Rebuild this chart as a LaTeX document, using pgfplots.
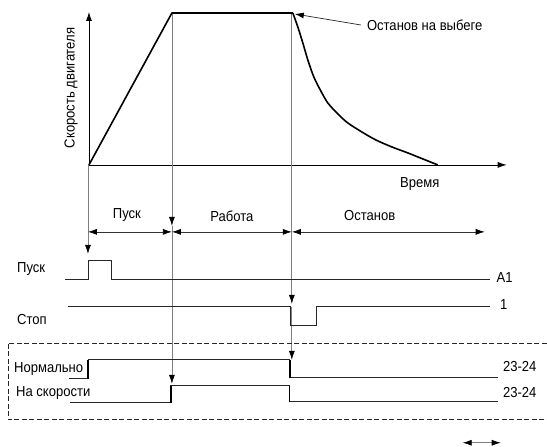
\documentclass[border=0pt]{standalone}
\usepackage{pgfplots}
\pgfplotsset{compat=1.18}
\usepackage{fontspec}
\setmainfont{Liberation Sans}[FakeStretch=0.9]
\usetikzlibrary{arrows.meta}
\tikzset{lbl/.style={font=\fontsize{14.5}{16}\selectfont, inner sep=0pt}}
\begin{document}
\begin{tikzpicture}
\begin{axis}[
  width=547pt, height=447pt, scale only axis,
  xmin=0, xmax=547, ymin=0, ymax=447, y dir=reverse,
  hide axis, clip=false,
]
% bounding frame (invisible)
\addplot[draw=none] coordinates {(0,0) (547,447)};
% axes
\addplot[black, line width=0.8pt, -{Latex[length=9pt,width=6pt]}] coordinates {(89,165) (89,12)};
\addplot[black, line width=0.8pt, -{Latex[length=9pt,width=6pt]}] coordinates {(89,165) (507,165)};
% gray verticals with arrows
\addplot[gray, line width=0.7pt, -{Latex[length=9pt,width=6pt,color=black]}] coordinates {(88,165) (88,254)};
\addplot[gray, line width=0.7pt, -{Latex[length=9pt,width=6pt,color=black]}] coordinates {(172,13) (172,226)};
\addplot[gray, line width=0.7pt, -{Latex[length=9pt,width=6pt,color=black]}] coordinates {(172,226) (172,384)};
\addplot[gray, line width=0.7pt, -{Latex[length=9pt,width=6pt,color=black]}] coordinates {(292,13) (292,304)};
\addplot[gray, line width=0.7pt, -{Latex[length=9pt,width=6pt,color=black]}] coordinates {(292,307) (292,360)};
% speed curve
\addplot[black, line width=1.6pt, line join=round] coordinates {(89,165) (172,13) (293,13)};
\addplot[black, line width=1.6pt, smooth, tension=0.5] coordinates {
 (293,13) (298,27) (303,43) (308,60) (314,77) (321,91) (328,103) (338,114) (348,123)
 (362,132) (376,140) (392,147) (408,153) (423,159) (438,165)};
% annotation
\addplot[black!85, line width=0.7pt, -{Latex[length=9pt,width=6pt,color=black]}] coordinates {(361,25) (295,14)};
\node[lbl, anchor=west] at (axis cs:367,25) {Останов на выбеге};
\node[lbl] at (axis cs:420,184) {Время};
\node[lbl, rotate=90] at (axis cs:71,88) {Скорость двигателя};
% phase arrows
\addplot[black!80, line width=0.7pt, {Latex[length=9pt,width=6pt,color=black]}-{Latex[length=9pt,width=6pt,color=black]}] coordinates {(88,232) (172,232)};
\addplot[black!80, line width=0.7pt, {Latex[length=9pt,width=6pt,color=black]}-{Latex[length=9pt,width=6pt,color=black]}] coordinates {(172,232) (292,232)};
\addplot[black!80, line width=0.7pt, {Latex[length=9pt,width=6pt,color=black]}-{Latex[length=9pt,width=6pt,color=black]}] coordinates {(292,232) (485,232)};
\node[lbl] at (axis cs:127,215) {Пуск};
\node[lbl] at (axis cs:232,216) {Работа};
\node[lbl] at (axis cs:370,216) {Останов};
% Pusk signal
\addplot[black!85, line width=0.9pt] coordinates {(65,280) (88,280) (88,261) (112,261) (112,280) (490,280)};
\node[lbl, anchor=west] at (axis cs:17,269) {Пуск};
\node[lbl] at (axis cs:505,278) {A1};
% Stop signal
\addplot[black!85, line width=0.9pt] coordinates {(68,307) (291,307) (291,326) (317,326) (317,307) (490,307)};
\node[lbl, anchor=west] at (axis cs:17,320) {Стоп};
\node[lbl] at (axis cs:504,305) {1};
% dashed box
\addplot[black!85, line width=0.6pt, dash pattern=on 5pt off 2.5pt] coordinates {(547,343) (8,343) (8,420) (547,420)};
% Normal
\addplot[black!85, line width=0.9pt] coordinates {(69,379) (88,379) (88,360) (290,360) (290,378) (498,378)};
\addplot[black, line width=1.6pt] coordinates {(88,379) (88,360)};
\addplot[black, line width=1.6pt] coordinates {(290,360) (290,378)};
\node[lbl, anchor=west] at (axis cs:14,369) {Нормально};
\node[lbl] at (axis cs:520,367) {23-24};
% At speed
\addplot[black!85, line width=0.9pt] coordinates {(70,403) (171,403) (171,386) (290,386) (290,402) (498,402)};
\addplot[black, line width=1.6pt] coordinates {(171,403) (171,386)};
\addplot[black, line width=1.2pt] coordinates {(290,386) (290,402)};
\node[lbl, anchor=west] at (axis cs:16,393) {На скорости};
\node[lbl] at (axis cs:520,393) {23-24};
% bottom double arrow
\addplot[gray, line width=0.7pt, {Latex[length=9pt,width=6pt,color=black]}-{Latex[length=9pt,width=6pt,color=black]}] coordinates {(463,443) (501,443)};
\end{axis}
\end{tikzpicture}
\end{document}
